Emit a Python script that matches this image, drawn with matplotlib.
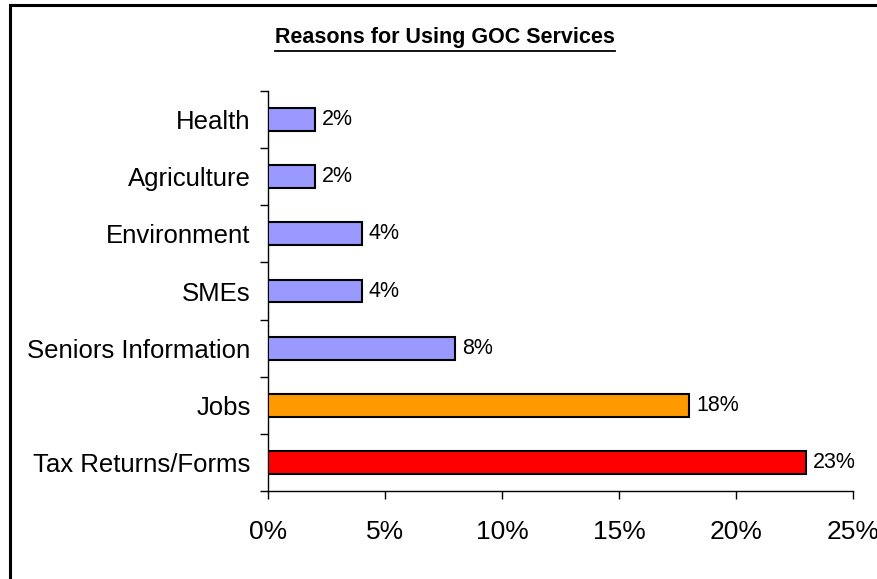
import matplotlib
matplotlib.use('agg')
import matplotlib.pyplot as plt
from matplotlib.patches import Rectangle
from matplotlib.lines import Line2D
from matplotlib.ticker import FixedLocator, FuncFormatter

plt.rcParams['font.family'] = ['Liberation Sans', 'DejaVu Sans']

# reasons listed top to bottom, share of respondents (%)
reasons = ['Health', 'Agriculture', 'Environment', 'SMEs',
           'Seniors Information', 'Jobs', 'Tax Returns/Forms']
shares = [2, 2, 4, 4, 8, 18, 23]
bar_colors = ['#9999FF', '#9999FF', '#9999FF', '#9999FF',
              '#9999FF', '#FF9900', '#FF0000']
x_ticks = [0, 5, 10, 15, 20, 25]

fig = plt.figure(figsize=(8.78, 5.79), dpi=100)
fig.patch.set_facecolor('white')

# outer chart frame (runs off the right and bottom edges)
fig.patches.append(Rectangle((10 / 878, -0.05), 1.2, 1 - 5 / 579 + 0.05,
                             transform=fig.transFigure, fill=False,
                             edgecolor='black', linewidth=2.2, zorder=0))

ax = fig.add_axes([268 / 878, 1 - 491 / 579, (853 - 268) / 878, (491 - 91) / 579])

n = len(reasons)
ypos = [n - 1 - i for i in range(n)]
ax.barh(ypos, shares, height=0.4, color=bar_colors,
        edgecolor='black', linewidth=1.5, zorder=3)

for y, v in zip(ypos, shares):
    ax.text(v + 0.3, y, '%d%%' % v, va='center', ha='left', fontsize=15.5)

ax.set_xlim(0, 25)
ax.set_ylim(-0.5, n - 0.5)

ax.set_xticks(x_ticks)
ax.xaxis.set_major_formatter(FuncFormatter(lambda v, p: '%d%%' % v))
ax.tick_params(axis='x', direction='out', length=6, width=1,
               pad=15, labelsize=19)

ax.set_yticks(ypos)
ax.set_yticklabels(reasons)
ax.yaxis.set_minor_locator(FixedLocator([i - 0.5 for i in range(n + 1)]))
ax.tick_params(axis='y', which='major', length=0, pad=12.5, labelsize=18.5)
ax.tick_params(axis='y', which='minor', direction='out', length=6, width=1)

for side in ('top', 'right'):
    ax.spines[side].set_visible(False)
for side in ('left', 'bottom'):
    ax.spines[side].set_linewidth(1)
    ax.spines[side].set_color('black')

title = fig.text(445 / 878, 1 - 37 / 579, 'Reasons for Using GOC Services',
                 ha='center', va='center', fontsize=15.5, fontweight='bold')

# underline the title
fig.canvas.draw()
bb = title.get_window_extent().transformed(fig.transFigure.inverted())
uy = 1 - 51 / 579
fig.lines.append(Line2D([bb.x0, bb.x1], [uy, uy], transform=fig.transFigure,
                        color='black', linewidth=1.3))

fig.savefig('out.png', dpi=100)
